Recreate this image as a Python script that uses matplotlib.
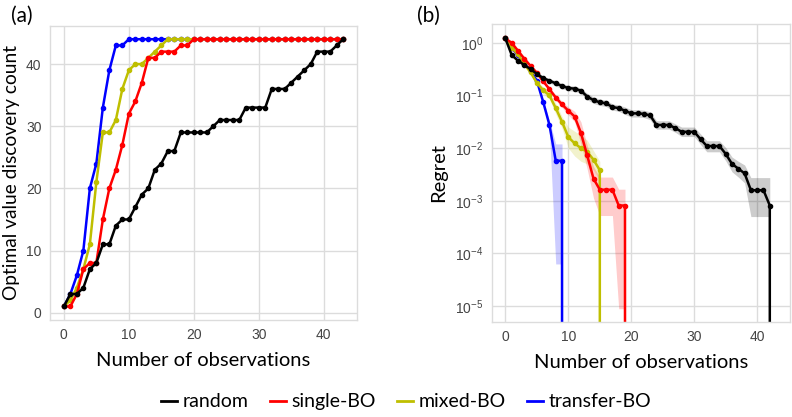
import numpy as np
import matplotlib
matplotlib.use("Agg")
import matplotlib.pyplot as plt
from matplotlib.lines import Line2D

plt.rcParams['font.family'] = ['Liberation Sans', 'DejaVu Sans']

methods = ['random', 'single-BO', 'mixed-BO', 'transfer-BO']
colors = {'random': 'black', 'single-BO': '#ff0000', 'mixed-BO': '#bfbf00', 'transfer-BO': '#0000ff'}

# (a) optimal value discovery count vs number of observations
obs_a = list(range(44))
count_random = [1, 3, 3, 4, 7, 8, 11, 11, 14, 15, 15, 17, 19, 20, 23, 24, 26, 26, 29, 29,
                29, 29, 29, 30, 31, 31, 31, 31, 33, 33, 33, 33, 36, 36, 36, 37, 38, 39, 40, 42,
                42, 42, 43, 44]
count_single = [1, 1, 3, 7, 8, 8, 15, 20, 23, 27, 32, 34, 37, 41, 41, 42, 42, 42, 43, 43,
                44, 44, 44, 44, 44, 44, 44, 44, 44, 44, 44, 44, 44, 44, 44, 44, 44, 44, 44, 44,
                44, 44, 44, 44]
count_mixed = [1, 2, 4, 7, 11, 21, 29, 29, 31, 36, 39, 40, 40, 41, 42, 43, 44, 44, 44, 44,
               44, 44, 44, 44, 44, 44, 44, 44, 44, 44, 44, 44, 44, 44, 44, 44, 44, 44, 44, 44,
               44, 44, 44, 44]
count_transfer = [1, 3, 6, 10, 20, 24, 33, 39, 43, 43, 44, 44, 44, 44, 44, 44, 44, 44, 44, 44,
                  44, 44, 44, 44, 44, 44, 44, 44, 44, 44, 44, 44, 44, 44, 44, 44, 44, 44, 44, 44,
                  44, 44, 44, 44]

# (b) regret, stored as log10 values (-inf means regret reached 0)
ninf = -np.inf
log_regret_random = [0.083, -0.23, -0.34, -0.42, -0.50, -0.59, -0.67, -0.72, -0.77, -0.82,
                     -0.86, -0.87, -0.91, -1.02, -1.09, -1.13, -1.15, -1.22, -1.24, -1.29,
                     -1.34, -1.34, -1.35, -1.38, -1.56, -1.56, -1.56, -1.62, -1.69, -1.69,
                     -1.69, -1.83, -1.96, -1.96, -1.96, -2.11, -2.30, -2.39, -2.48, -2.80,
                     -2.80, -2.80, -3.09, ninf]
log_hi_random = [0.10, -0.20, -0.31, -0.39, -0.47, -0.55, -0.63, -0.68, -0.72, -0.77,
                 -0.81, -0.82, -0.86, -0.96, -1.03, -1.07, -1.09, -1.16, -1.18, -1.22,
                 -1.27, -1.27, -1.28, -1.31, -1.48, -1.48, -1.48, -1.54, -1.60, -1.60,
                 -1.60, -1.73, -1.86, -1.86, -1.86, -1.99, -2.17, -2.25, -2.32, -2.56,
                 -2.56, -2.56, -2.56]
log_lo_random = [0.07, -0.26, -0.37, -0.45, -0.53, -0.63, -0.71, -0.76, -0.82, -0.87,
                 -0.91, -0.92, -0.96, -1.08, -1.15, -1.19, -1.21, -1.28, -1.30, -1.36,
                 -1.41, -1.41, -1.42, -1.46, -1.64, -1.64, -1.64, -1.70, -1.78, -1.78,
                 -1.78, -1.93, -2.07, -2.07, -2.07, -2.24, -2.45, -2.55, -2.66, -3.30,
                 -3.30, -3.30, -3.30]

log_regret_single = [0.083, 0.0, -0.15, -0.30, -0.44, -0.57, -0.73, -0.88, -1.04, -1.17,
                     -1.29, -1.40, -1.71, -2.14, -2.58, -2.79, -2.79, -2.79, -3.09, -3.09,
                     ninf]
log_hi_single = [0.10, 0.03, -0.12, -0.27, -0.41, -0.54, -0.69, -0.84, -0.99, -1.11,
                 -1.22, -1.30, -1.50, -1.95, -2.35, -2.55, -2.55, -2.55, -2.78, -2.78]
log_lo_single = [0.07, -0.03, -0.18, -0.33, -0.47, -0.60, -0.77, -0.92, -1.09, -1.23,
                 -1.37, -1.50, -1.92, -2.40, -2.95, -3.28, -3.28, -3.28, -5.05, -5.05]

log_regret_mixed = [0.083, -0.09, -0.22, -0.40, -0.56, -0.76, -0.90, -1.00, -1.24, -1.50,
                    -1.79, -1.91, -2.00, -2.07, -2.22, -2.42, ninf]
log_hi_mixed = [0.10, -0.06, -0.18, -0.36, -0.51, -0.70, -0.84, -0.93, -1.15, -1.40,
                -1.60, -1.68, -1.75, -1.85, -2.05, -2.25]
log_lo_mixed = [0.07, -0.12, -0.26, -0.44, -0.61, -0.82, -0.96, -1.07, -1.35, -1.62,
                -2.00, -2.15, -2.25, -2.30, -2.42, -2.62]

log_regret_transfer = [0.083, -0.09, -0.24, -0.40, -0.53, -0.72, -1.12, -1.56, -2.24, -2.24,
                       ninf]
log_hi_transfer = [0.10, -0.06, -0.21, -0.37, -0.50, -0.68, -1.07, -1.48, -1.92, -1.92]
log_lo_transfer = [0.07, -0.12, -0.27, -0.43, -0.56, -0.76, -1.17, -1.65, -4.20, -4.20]

counts = {'random': count_random, 'single-BO': count_single,
          'mixed-BO': count_mixed, 'transfer-BO': count_transfer}
regrets = {'random': (log_regret_random, log_lo_random, log_hi_random),
           'single-BO': (log_regret_single, log_lo_single, log_hi_single),
           'mixed-BO': (log_regret_mixed, log_lo_mixed, log_hi_mixed),
           'transfer-BO': (log_regret_transfer, log_lo_transfer, log_hi_transfer)}
draw_order = ['transfer-BO', 'mixed-BO', 'single-BO', 'random']

grid_col = '#dcdcdc'
tick_col = '#444444'


def style_axes(ax):
    ax.set_facecolor('white')
    ax.grid(True, color=grid_col, linewidth=1.0)
    ax.set_axisbelow(True)
    for sp in ax.spines.values():
        sp.set_color(grid_col)
        sp.set_linewidth(1.0)
    ax.tick_params(length=0, labelsize=10, labelcolor=tick_col, pad=6)


fig = plt.figure(figsize=(7.92, 4.17), dpi=100)
ax1 = fig.add_axes([0.063, 0.233, 0.388, 0.705])
ax2 = fig.add_axes([0.621, 0.228, 0.376, 0.715])

for m in draw_order:
    ax1.plot(obs_a, counts[m], color=colors[m], lw=1.8, marker='o', ms=3)
ax1.set_xticks([0, 10, 20, 30, 40])
ax1.set_yticks([0, 10, 20, 30, 40])
style_axes(ax1)
ax1.set_xlabel('Number of observations', fontsize=14.5, family='Lato', labelpad=7)
ax1.set_ylabel('Optimal value discovery count', fontsize=13.8, family='Lato', labelpad=4)

for m in draw_order:
    mean, lo, hi = regrets[m]
    x = np.arange(len(mean))
    xb = np.arange(len(lo))
    ax2.fill_between(xb, 10.0 ** np.array(lo), 10.0 ** np.array(hi),
                     color=colors[m], alpha=0.2, lw=0)
    ax2.plot(x, 10.0 ** np.array(mean), color=colors[m], lw=1.8, marker='o', ms=3)
ax2.set_yscale('log')
ax2.set_ylim(5e-6, 2.3)
ax2.set_xlim(-2.15, 45.15)
ax2.set_yticks([1e0, 1e-1, 1e-2, 1e-3, 1e-4, 1e-5])
ax2.minorticks_off()
ax2.set_xticks([0, 10, 20, 30, 40])
style_axes(ax2)
ax2.set_xlabel('Number of observations', fontsize=14.5, family='Lato', labelpad=7)
ax2.set_ylabel('Regret', fontsize=14.5, family='Lato', labelpad=6)

fig.text(0.014, 0.985, '(a)', fontsize=15, family='Lato', va='top')
fig.text(0.526, 0.985, '(b)', fontsize=15, family='Lato', va='top')

handles = [Line2D([0], [0], color=colors[m], lw=2) for m in methods]
fig.legend(handles, methods, loc='center', bbox_to_anchor=(0.513, 0.036), ncol=4,
           frameon=False, handlelength=0.8, handletextpad=0.3, columnspacing=1.1,
           prop={'family': 'Lato', 'size': 14})

fig.savefig('out.png', dpi=100)
